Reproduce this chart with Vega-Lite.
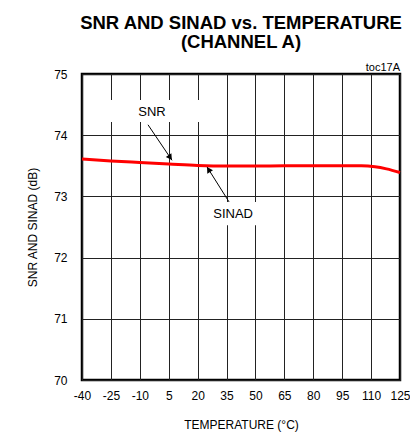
{
  "$schema": "https://vega.github.io/schema/vega-lite/v6.json",
  "width": 318,
  "height": 306,
  "autosize": {"type": "none"},
  "padding": {"left": 82, "top": 74, "right": 10, "bottom": 57},
  "background": "white",
  "title": {
    "text": ["SNR AND SINAD vs. TEMPERATURE", "(CHANNEL A)"],
    "font": "Liberation Sans",
    "fontSize": 18.5,
    "fontWeight": "bold",
    "color": "black",
    "anchor": "middle",
    "lineHeight": 19,
    "offset": 11
  },
  "config": {
    "view": {"stroke": "black", "strokeWidth": 2.5},
    "axis": {
      "labelFont": "Liberation Sans",
      "labelFontSize": 12,
      "labelColor": "black",
      "titleFont": "Liberation Sans",
      "titleFontSize": 12,
      "titleFontWeight": "normal",
      "titleColor": "black",
      "domain": false,
      "ticks": false,
      "grid": true,
      "gridColor": "#222222",
      "gridOpacity": 1,
      "gridWidth": 1
    }
  },
  "datasets": {
    "curve": [
      {"x": -40, "y": 73.61},
      {"x": -25, "y": 73.58},
      {"x": -10, "y": 73.555},
      {"x": 5, "y": 73.53},
      {"x": 20, "y": 73.505},
      {"x": 35, "y": 73.495},
      {"x": 50, "y": 73.495},
      {"x": 65, "y": 73.5},
      {"x": 80, "y": 73.5},
      {"x": 95, "y": 73.5},
      {"x": 105, "y": 73.5},
      {"x": 112, "y": 73.485},
      {"x": 118, "y": 73.45},
      {"x": 125, "y": 73.39}
    ],
    "boxes": [
      {"x": -27.5, "x2": 23.3, "y": 74.575, "y2": 74.216},
      {"x": 23.8, "x2": 53.4, "y": 72.91, "y2": 72.53}
    ],
    "labels": [
      {"x": -3.7, "y": 74.38, "label": "SNR"},
      {"x": 38.4, "y": 72.71, "label": "SINAD"}
    ],
    "arrows": [
      {"x": -5.75, "y": 74.17, "x2": 6.7, "y2": 73.59},
      {"x": 36.3, "y": 72.91, "x2": 24.9, "y2": 73.48}
    ],
    "heads": [
      {"x": 5.5, "y": 73.649, "angle": 145.6},
      {"x": 25.95, "y": 73.425, "angle": 327.8}
    ],
    "note": [
      {"x": 125, "y": 75, "label": "toc17A"}
    ]
  },
  "encoding": {
    "x": {
      "field": "x", "type": "quantitative",
      "scale": {"domain": [-40, 125], "nice": false, "zero": false},
      "axis": {
        "values": [-40, -25, -10, 5, 20, 35, 50, 65, 80, 95, 110, 125],
        "labelExpr": "datum.value + ''",
        "title": "TEMPERATURE  (°C)",
        "labelPadding": 10,
        "titlePadding": 18,
        "labelFlush": false,
        "labelOverlap": false
      }
    },
    "y": {
      "field": "y", "type": "quantitative",
      "scale": {"domain": [70, 75], "nice": false, "zero": false},
      "axis": {
        "values": [70, 71, 72, 73, 74, 75],
        "labelExpr": "datum.value + ''",
        "title": "SNR AND SINAD (dB)",
        "labelPadding": 15,
        "titlePadding": 14,
        "labelFlush": false
      }
    }
  },
  "layer": [
    {
      "data": {"name": "boxes"},
      "mark": {"type": "rect", "color": "white"},
      "encoding": {
        "x2": {"field": "x2"},
        "y2": {"field": "y2"}
      }
    },
    {
      "data": {"name": "curve"},
      "mark": {"type": "line", "color": "#ff0000", "strokeWidth": 3, "interpolate": "monotone"}
    },
    {
      "data": {"name": "arrows"},
      "mark": {"type": "rule", "color": "black", "strokeWidth": 1},
      "encoding": {
        "x2": {"field": "x2"},
        "y2": {"field": "y2"}
      }
    },
    {
      "data": {"name": "heads"},
      "mark": {"type": "point", "shape": "triangle", "filled": true, "color": "black", "size": 45, "opacity": 1},
      "encoding": {
        "angle": {"field": "angle", "type": "quantitative", "scale": null}
      }
    },
    {
      "data": {"name": "labels"},
      "mark": {"type": "text", "font": "Liberation Sans", "fontSize": 13, "color": "black", "align": "center", "baseline": "middle"},
      "encoding": {
        "text": {"field": "label"}
      }
    },
    {
      "data": {"name": "note"},
      "mark": {"type": "text", "font": "Liberation Sans", "fontSize": 11, "color": "black", "align": "right", "baseline": "bottom", "dy": -1},
      "encoding": {
        "text": {"field": "label"}
      }
    }
  ]
}
